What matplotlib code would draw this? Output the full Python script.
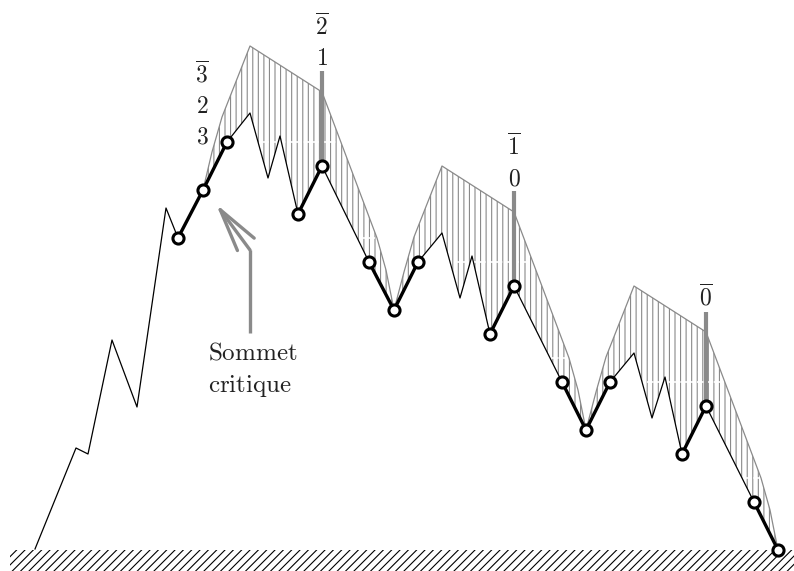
import numpy as np
import matplotlib.pyplot as plt
from matplotlib.patches import Rectangle

plt.rcParams['mathtext.fontset'] = 'cm'
plt.rcParams['hatch.linewidth'] = 0.8

# coordonnees en pixels (y vers le bas)
# profil de la montagne (trait fin noir)
profil_x = [35, 76, 88, 112, 137, 166, 178, 203, 227, 250, 268, 280, 298, 322,
            369, 394, 418, 442, 460, 472, 490, 514, 562, 586, 610, 634, 652, 665,
            682, 706, 754, 778]
profil_y = [549, 448, 454, 340, 407, 208, 238, 190, 142, 113, 178, 136, 214, 166,
            262, 310, 262, 233, 298, 256, 334, 286, 382, 430, 382, 353, 418, 377,
            454, 406, 502, 550]

# enveloppe grise
env_x = [203, 212, 222, 250, 322, 377, 386, 394,
         404, 414, 442, 514, 569, 578, 586,
         596, 606, 634, 706, 761, 770, 778]
env_y = [190, 152, 117, 46, 92, 238, 270, 310,
         272, 237, 166, 212, 358, 390, 430,
         392, 357, 286, 332, 478, 510, 550]

# zones hachurees
sections = [(203, 394), (394, 586), (586, 778)]

# sommets marques (cercles) et chemins epais
som_x = [178, 203, 227, 298, 322, 369, 394, 418, 490, 514, 562, 586, 610, 682, 706, 754, 778]
som_y = [238, 190, 142, 214, 166, 262, 310, 262, 334, 286, 382, 430, 382, 454, 406, 502, 550]
groupes = [[0, 1, 2], [3, 4], [5, 6, 7], [8, 9], [10, 11, 12], [13, 14], [15, 16]]

# coupures blanches dans les hachures
coup_y = [142, 238, 262, 358, 382, 478]
coup_x0 = [262, 360, 454, 552, 647, 745]
coup_x1 = [338, 376, 530, 568, 723, 760]

# reperes verticaux
rep_x = [322, 514, 706]
rep_haut = [71, 191, 312]
rep_bas = [166, 286, 406]

# etiquettes
lab_x = [202, 202, 202, 322, 322, 514, 514, 706]
lab_y = [83, 113, 143, 35, 65, 155, 185, 306]
lab_t = [r'$\overline{3}$', '$2$', '$3$', r'$\overline{2}$', '$1$',
         r'$\overline{1}$', '$0$', r'$\overline{0}$']

gris = '#8a8a8a'

fig = plt.figure(figsize=(7.94, 5.71), dpi=100)
ax = fig.add_axes([0, 0, 1, 1])
ax.set_xlim(0, 794)
ax.set_ylim(571, 0)
ax.axis('off')

# sol
ax.add_patch(Rectangle((10, 550), 800, 40, fill=False, hatch='////',
                       edgecolor='black', linewidth=0, zorder=1))

# hachures verticales entre enveloppe et profil
px = np.array(profil_x)
py = np.array(profil_y)
ex = np.array(env_x)
ey = np.array(env_y)
for a, b in sections:
    m1 = (ex >= a) & (ex <= b)
    m2 = (px >= a) & (px <= b)
    xs = np.concatenate([ex[m1], px[m2][::-1]])
    ys = np.concatenate([ey[m1], py[m2][::-1]])
    ax.fill(xs, ys, facecolor='none', edgecolor=gris, hatch='|||',
            linewidth=0, zorder=1)

ax.hlines(coup_y, coup_x0, coup_x1, colors='white', linewidth=1.2,
          linestyles=(0, (4, 1)), zorder=2)

ax.plot(env_x, env_y, color=gris, linewidth=0.9, zorder=3)
ax.plot(profil_x, profil_y, color='black', linewidth=0.9, zorder=3)

for g in groupes:
    ax.plot([som_x[i] for i in g], [som_y[i] for i in g], color='black',
            linewidth=2.4, solid_capstyle='round', zorder=4)

ax.vlines(rep_x, rep_haut, rep_bas, colors=gris, linewidth=3, zorder=4.5)

ax.plot(som_x, som_y, linestyle='none', marker='o', markersize=8,
        markerfacecolor='white', markeredgecolor='black', markeredgewidth=2.2,
        zorder=5)

for x, y, t in zip(lab_x, lab_y, lab_t):
    ax.text(x, y, t, fontsize=17, ha='center', va='baseline', color='#222222')

# sommet critique
ax.plot([250, 250], [333, 250], color=gris, linewidth=2.4, solid_capstyle='butt')
ax.annotate('', xy=(216, 204), xytext=(250, 250),
            arrowprops=dict(arrowstyle='->, head_length=3.1, head_width=0.75',
                            color=gris, linewidth=2.4, mutation_scale=10,
                            shrinkA=0, shrinkB=0))
ax.text(208, 360, r'$\mathrm{Sommet}$', fontsize=18, ha='left', va='baseline',
        color='#222222')
ax.text(208, 392, r'$\mathrm{critique}$', fontsize=18, ha='left', va='baseline',
        color='#222222')

fig.savefig('out.png', dpi=100)
